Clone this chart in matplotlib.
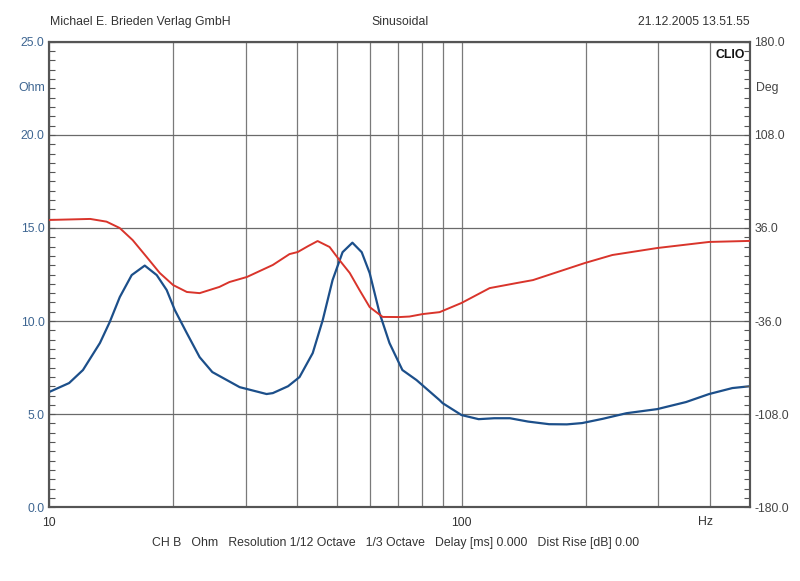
import numpy as np
import matplotlib
matplotlib.use('Agg')
import matplotlib.pyplot as plt
from matplotlib.ticker import FixedLocator, NullFormatter

plt.rcParams['font.family'] = ['Liberation Sans', 'DejaVu Sans']

# impedance magnitude (Ohm)
imp_freq = [10, 11.2, 12.1, 13.3, 14.05, 14.86, 15.88, 17.08, 18.26, 19.3, 20.2, 21.6,
            23.2, 24.9, 29, 33.7, 34.9, 38, 40.5, 43.6, 46.1, 48.7, 51.5, 54.4,
            57.3, 59.9, 63.3, 66.9, 71.9, 77.8, 88.5, 90, 100, 110, 120, 131,
            145, 163, 180, 196, 220, 251, 298, 350, 398, 453, 500]
imp_ohm = [6.18, 6.67, 7.37, 8.82, 9.95, 11.29, 12.47, 12.98, 12.47, 11.67, 10.59, 9.35,
           8.06, 7.26, 6.45, 6.08, 6.13, 6.5, 6.99, 8.28, 10.05, 12.2, 13.7, 14.21,
           13.7, 12.58, 10.43, 8.82, 7.37, 6.83, 5.75, 5.59, 4.95, 4.73, 4.78, 4.78,
           4.6, 4.46, 4.45, 4.52, 4.75, 5.05, 5.27, 5.65, 6.08, 6.4, 6.5]

# phase (Deg)
ph_freq = [10, 12.6, 13.8, 14.85, 15.97, 17.27, 18.57, 20, 21.6, 23.2, 25.9, 27.4,
           30.2, 34.9, 38.3, 40.1, 42.5, 44.8, 47.9, 50.6, 53.6, 56.6, 59.9, 64.4,
           70.8, 74.8, 80.5, 88.5, 100, 117, 136, 149, 199, 232, 298, 398, 500]
ph_deg = [42.2, 43, 40.9, 36, 26.6, 13.5, 1.2, -8.1, -13.5, -14.4, -9.6, -5.8,
          -1.9, 7.4, 15.8, 17.4, 22, 25.9, 21.3, 11.2, 1.2, -12, -25.2, -32.8,
          -32.9, -32.5, -30.6, -29.1, -22, -10.5, -6.6, -4.3, 8.9, 15.1, 20.5, 25.2, 26]

ohm_ticks = [0, 5, 10, 15, 20, 25]
deg_ticks = [-180, -108, -36, 36, 108, 180]
x_grid = [20, 30, 40, 50, 60, 70, 80, 90, 200, 300, 400]

FS = 8.8

fig = plt.figure(figsize=(8, 5.81), dpi=100)
ax = fig.add_axes([0.061, 0.127, 0.8765, 0.801])
ax2 = ax.twinx()

ax.plot(imp_freq, imp_ohm, color='#1c4f8a', lw=1.6, zorder=3)
ax2.plot(ph_freq, ph_deg, color='#d9342b', lw=1.4, zorder=3)

ax.set_xscale('log')
ax.set_xlim(10, 500)
ax.set_ylim(0, 25)
ax2.set_ylim(-180, 180)

ax.xaxis.set_major_locator(FixedLocator([10, 100]))
ax.xaxis.set_minor_locator(FixedLocator(x_grid))
ax.xaxis.set_minor_formatter(NullFormatter())
ax.set_xticklabels(['10', '100'])
ax.tick_params(axis='x', which='both', length=0, pad=7, labelsize=FS, labelcolor='#333333')

ax.set_yticks(ohm_ticks)
ax.set_yticklabels(['%.1f' % v for v in ohm_ticks])
ax.yaxis.set_minor_locator(FixedLocator(np.arange(0, 25.01, 0.5)))
ax.tick_params(axis='y', which='both', direction='in', length=4, width=0.8,
               color='#555555', labelsize=FS, labelcolor='#3d6591', pad=3)

ax2.set_yticks(deg_ticks)
ax2.set_yticklabels(['%.1f' % v for v in deg_ticks])
ax2.yaxis.set_minor_locator(FixedLocator(np.arange(-180, 180.01, 7.2)))
ax2.tick_params(axis='y', which='both', direction='in', length=4, width=0.8,
                color='#555555', labelsize=FS, labelcolor='#444444', pad=3)

ax.grid(True, which='major', axis='y', color='#6a6a6a', lw=0.9)
ax.grid(True, which='both', axis='x', color='#7a7a7a', lw=0.9)

for a in (ax, ax2):
    for s in a.spines.values():
        s.set_color('#555555')
        s.set_linewidth(1.5)

ax.text(-0.005, 0.9, 'Ohm', transform=ax.transAxes, ha='right', va='center',
        fontsize=FS, color='#3d6591')
ax2.text(1.008, 0.9, 'Deg', transform=ax.transAxes, ha='left', va='center',
         fontsize=FS, color='#444444')
ax.text(0.993, 0.985, 'CLIO', transform=ax.transAxes, ha='right', va='top',
        fontsize=FS, fontweight='bold', color='#111111')
ax.text(390, -0.018, 'Hz', transform=ax.get_xaxis_transform(), ha='center', va='top',
        fontsize=FS, color='#333333')

fig.text(0.062, 0.962, 'Michael E. Brieden Verlag GmbH', fontsize=FS, color='#333333',
         ha='left', va='center')
fig.text(0.5, 0.962, 'Sinusoidal', fontsize=FS, color='#333333', ha='center', va='center')
fig.text(0.9375, 0.962, '21.12.2005 13.51.55', fontsize=FS, color='#333333',
         ha='right', va='center')
fig.text(0.495, 0.065, 'CH B   Ohm   Resolution 1/12 Octave   1/3 Octave   Delay [ms] 0.000   Dist Rise [dB] 0.00',
         fontsize=FS, color='#333333', ha='center', va='center')

fig.savefig('out.png', dpi=100, facecolor='white')
